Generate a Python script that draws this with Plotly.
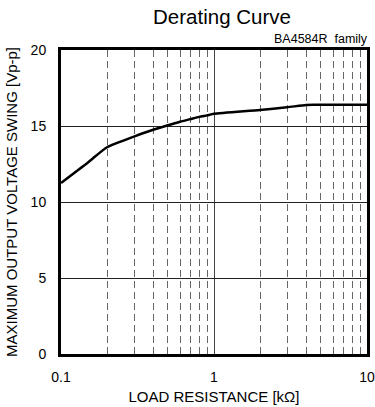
import plotly.graph_objects as go

# Data
load_kohm = [0.1, 0.15, 0.2, 0.3, 0.4, 0.5, 0.6, 0.7, 0.8, 0.9, 1.0, 2.0, 3.0, 4.0, 4.5, 10.0]
swing_vpp = [11.25, 12.6, 13.6, 14.3, 14.75, 15.05, 15.28, 15.45, 15.6, 15.7, 15.8, 16.05, 16.23, 16.38, 16.4, 16.4]

x_tickvals = [0.1, 1, 10]
x_ticktext = ["0.1", "1", "10"]
y_tickvals = [0, 5, 10, 15, 20]

FONT = "Liberation Sans, Arial, sans-serif"

fig = go.Figure()
fig.add_trace(go.Scatter(
    x=load_kohm, y=swing_vpp, mode="lines",
    line=dict(color="black", width=2.5, shape="spline", smoothing=0.6),
    hoverinfo="skip", showlegend=False,
))

fig.update_layout(
    width=375, height=407,
    margin=dict(l=61, r=8, t=50, b=53),
    paper_bgcolor="white", plot_bgcolor="white",
    font=dict(family=FONT, color="black", size=14),
    title=dict(text="Derating Curve", xref="container", x=222/375, xanchor="center",
               yref="container", y=1 - 17/407, yanchor="middle",
               font=dict(size=20.5, family=FONT, color="black")),
    annotations=[dict(text="BA4584R&nbsp;&nbsp;family", xref="paper", yref="paper",
                      x=1.01, y=1.0, xanchor="right", yanchor="middle", showarrow=False,
                      yshift=11, font=dict(size=12.5, family=FONT, color="black"))],
)

fig.update_xaxes(
    type="log", range=[-1, 1], automargin=False,
    tickvals=x_tickvals, ticktext=x_ticktext,
    ticks="outside", ticklen=8, tickcolor="rgba(0,0,0,0)",
    showline=True, linecolor="black", linewidth=3, mirror=True,
    showgrid=True, gridcolor="#444444", gridwidth=1,
    minor=dict(dtick="D1", showgrid=True, gridcolor="#666666", gridwidth=1,
               griddash="7px,4px", ticks=""),
    title=dict(text="LOAD RESISTANCE [kΩ]", standoff=8, font=dict(size=15)),
    zeroline=False,
)
fig.update_yaxes(
    range=[0, 20], tickvals=y_tickvals, automargin=False,
    ticks="outside", ticklen=9, tickcolor="rgba(0,0,0,0)",
    showline=True, linecolor="black", linewidth=3, mirror=True,
    showgrid=True, gridcolor="#222222", gridwidth=1,
    title=dict(text="MAXIMUM OUTPUT VOLTAGE SWING [Vp-p]", standoff=10, font=dict(size=15)),
    zeroline=False,
)

fig.write_html(
    "out.html",
    config={"displayModeBar": False},
    post_script="document.body.style.margin='0';document.body.style.overflow='hidden';",
)
